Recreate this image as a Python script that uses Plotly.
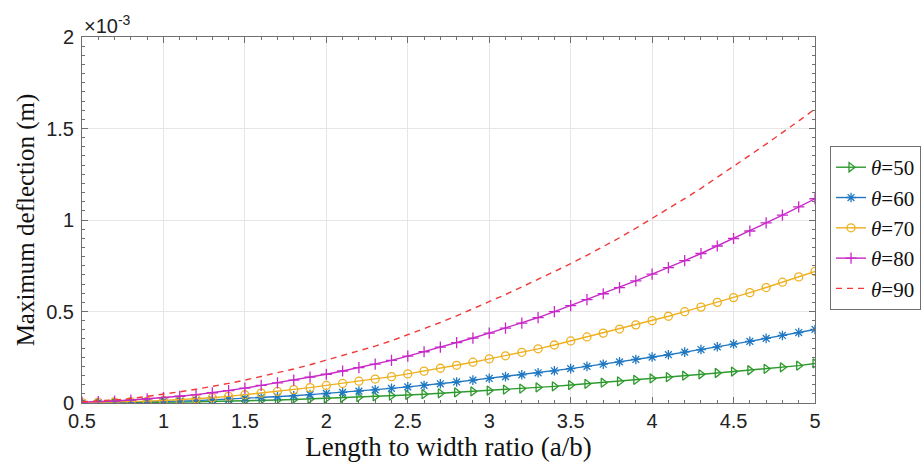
import plotly.graph_objects as go

# Length-to-width ratio a/b, sampled every 0.1
ratio = [0.5, 0.6, 0.7, 0.8, 0.9, 1.0, 1.1, 1.2, 1.3, 1.4,
         1.5, 1.6, 1.7, 1.8, 1.9, 2.0, 2.1, 2.2, 2.3, 2.4,
         2.5, 2.6, 2.7, 2.8, 2.9, 3.0, 3.1, 3.2, 3.3, 3.4,
         3.5, 3.6, 3.7, 3.8, 3.9, 4.0, 4.1, 4.2, 4.3, 4.4,
         4.5, 4.6, 4.7, 4.8, 4.9, 5.0]

# Maximum deflection, in units of 1e-3 m
defl_50 = [0.001, 0.001, 0.002, 0.002, 0.003, 0.004, 0.005, 0.007, 0.008, 0.010,
           0.012, 0.014, 0.016, 0.019, 0.022, 0.025, 0.028, 0.032, 0.036, 0.040,
           0.044, 0.048, 0.053, 0.058, 0.063, 0.068, 0.073, 0.079, 0.085, 0.091,
           0.098, 0.105, 0.111, 0.118, 0.126, 0.134, 0.141, 0.149, 0.157, 0.164,
           0.172, 0.179, 0.187, 0.195, 0.204, 0.216]
defl_60 = [0.001, 0.002, 0.003, 0.004, 0.006, 0.008, 0.010, 0.013, 0.017, 0.021,
           0.025, 0.030, 0.035, 0.040, 0.046, 0.052, 0.058, 0.065, 0.072, 0.080,
           0.088, 0.096, 0.105, 0.115, 0.125, 0.135, 0.144, 0.154, 0.165, 0.176,
           0.188, 0.200, 0.212, 0.225, 0.238, 0.251, 0.264, 0.278, 0.292, 0.307,
           0.322, 0.337, 0.353, 0.369, 0.385, 0.402]
defl_70 = [0.002, 0.003, 0.005, 0.007, 0.010, 0.014, 0.018, 0.023, 0.029, 0.036,
           0.045, 0.054, 0.063, 0.073, 0.084, 0.096, 0.107, 0.119, 0.131, 0.144,
           0.159, 0.174, 0.190, 0.206, 0.223, 0.241, 0.258, 0.277, 0.296, 0.317,
           0.339, 0.361, 0.382, 0.404, 0.427, 0.450, 0.474, 0.499, 0.524, 0.550,
           0.576, 0.603, 0.631, 0.660, 0.689, 0.719]
defl_80 = [0.005, 0.007, 0.011, 0.016, 0.022, 0.029, 0.037, 0.046, 0.056, 0.068,
           0.081, 0.096, 0.110, 0.125, 0.141, 0.157, 0.175, 0.193, 0.212, 0.233,
           0.256, 0.280, 0.305, 0.330, 0.355, 0.382, 0.409, 0.437, 0.467, 0.499,
           0.532, 0.565, 0.597, 0.631, 0.667, 0.704, 0.740, 0.778, 0.817, 0.858,
           0.899, 0.940, 0.984, 1.027, 1.072, 1.116]
defl_90 = [0.007, 0.011, 0.017, 0.024, 0.035, 0.048, 0.061, 0.075, 0.090, 0.107,
           0.125, 0.144, 0.164, 0.186, 0.209, 0.234, 0.259, 0.284, 0.311, 0.340,
           0.372, 0.405, 0.440, 0.476, 0.514, 0.553, 0.593, 0.634, 0.676, 0.718,
           0.761, 0.807, 0.854, 0.903, 0.955, 1.008, 1.062, 1.117, 1.173, 1.232,
           1.293, 1.354, 1.415, 1.477, 1.541, 1.607]

series = [
    ("<i>θ</i>=50", defl_50, "#2E9A2E", "triangle-right-open", "solid"),
    ("<i>θ</i>=60", defl_60, "#1F78C1", "asterisk-open", "solid"),
    ("<i>θ</i>=70", defl_70, "#EDB120", "circle-open", "solid"),
    ("<i>θ</i>=80", defl_80, "#C828C8", "cross-thin-open", "solid"),
    ("<i>θ</i>=90", defl_90, "#F03A3A", None, "dash"),
]

fig = go.Figure()
for name, vals, color, symbol, dash in series:
    if symbol is None:
        fig.add_trace(go.Scatter(
            x=ratio, y=vals, name=name, mode="lines",
            line=dict(color=color, width=1.4, dash="6px,5px"),
        ))
    else:
        fig.add_trace(go.Scatter(
            x=ratio, y=vals, name=name, mode="lines+markers",
            line=dict(color=color, width=1.4),
            marker=dict(symbol=symbol, size=8, color=color,
                        line=dict(color=color, width=1.3)),
        ))

axis_common = dict(
    showline=True, linecolor="#6f6f6f", linewidth=1,
    mirror="ticks", ticks="inside", ticklen=6, tickcolor="#6f6f6f",
    showgrid=True, gridcolor="#e6e6e6", gridwidth=1,
    zeroline=False,
    tickfont=dict(family="Liberation Sans, Arial, sans-serif", size=20, color="#222"),
)

fig.update_xaxes(
    range=[0.5, 5], dtick=0.5, tick0=0.5,
    minor=dict(dtick=0.1, ticks="inside", ticklen=3, tickcolor="#6f6f6f", showgrid=False),
    title=dict(text="Length to width ratio (a/b)", standoff=6,
               font=dict(family="Liberation Serif, Times New Roman, serif", size=27, color="#111")),
    **axis_common,
)
fig.update_yaxes(
    range=[0, 2], dtick=0.5, tick0=0,
    ticklabelstandoff=3,
    minor=dict(dtick=0.05, ticks="inside", ticklen=3, tickcolor="#6f6f6f", showgrid=False),
    title=dict(text="Maximum deflection (m)", standoff=4,
               font=dict(family="Liberation Serif, Times New Roman, serif", size=25, color="#111")),
    **axis_common,
)

fig.add_annotation(
    x=0, y=1, xref="paper", yref="paper", xanchor="left", yanchor="bottom",
    text="×10<sup>-3</sup>", showarrow=False, yshift=-2,
    font=dict(family="Liberation Sans, Arial, sans-serif", size=20, color="#222"),
)

fig.update_layout(
    width=924, height=470,
    margin=dict(l=82, r=109, t=37, b=67, autoexpand=False),
    paper_bgcolor="white", plot_bgcolor="white",
    showlegend=True,
    legend=dict(
        x=1.0205, y=0.702, xanchor="left", yanchor="top",
        bgcolor="white", bordercolor="#6f6f6f", borderwidth=1,
        font=dict(family="Liberation Serif, Times New Roman, serif", size=21, color="#111"),
        itemwidth=30, tracegroupgap=0,
    ),
)

fig.write_html("out.html")
